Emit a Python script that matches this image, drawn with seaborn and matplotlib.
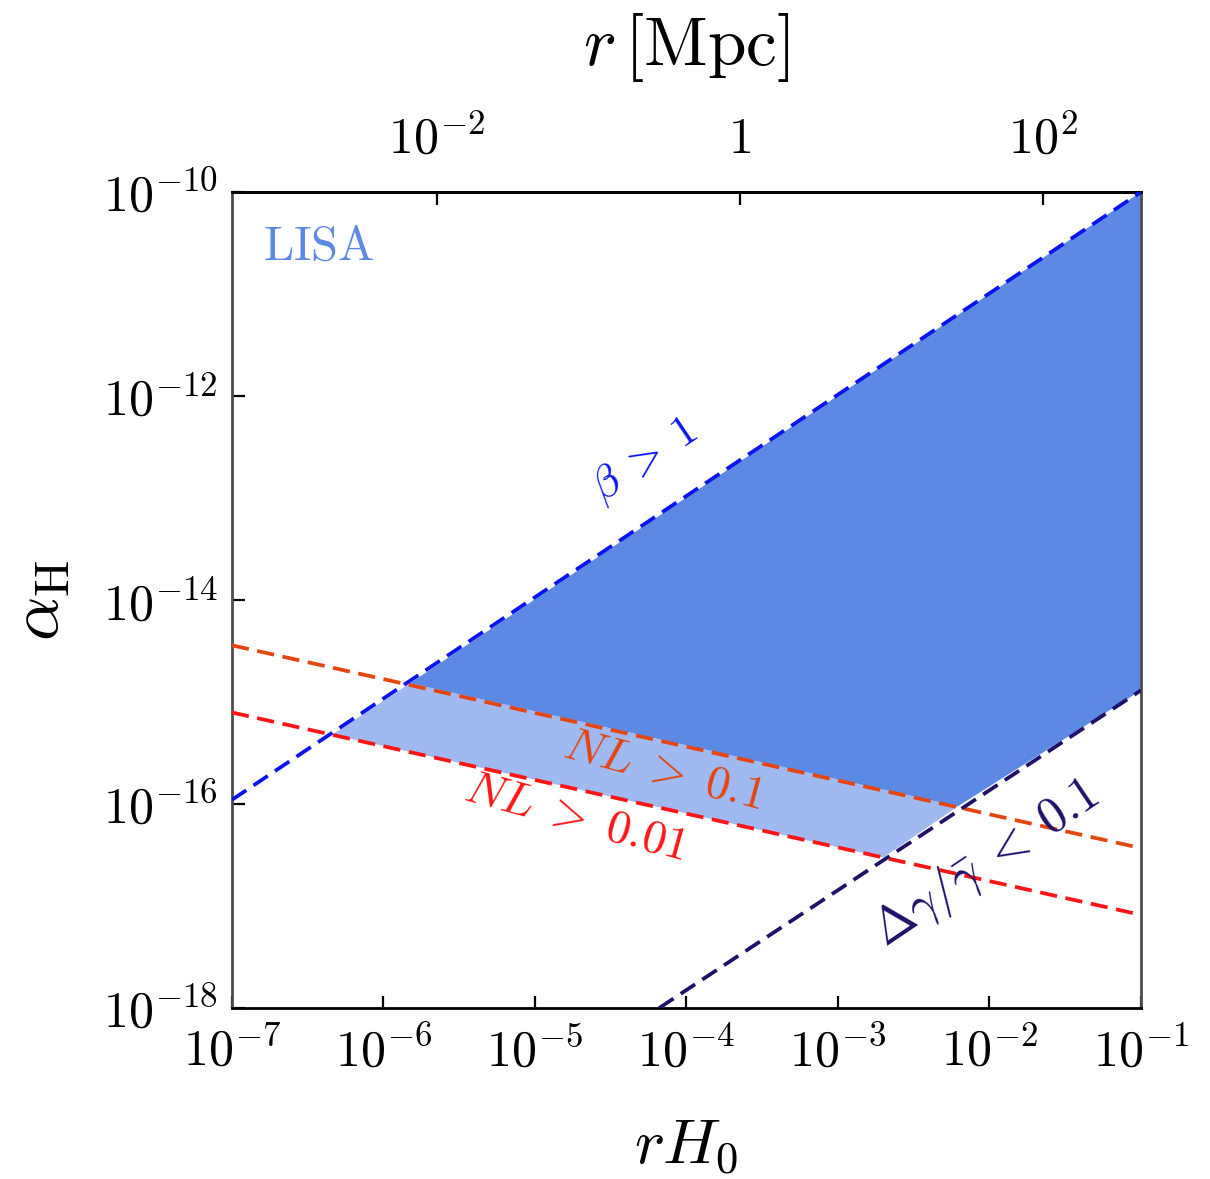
import numpy as np
import pandas as pd
import matplotlib
matplotlib.use("Agg")
import matplotlib.pyplot as plt
from matplotlib.ticker import FixedLocator, FuncFormatter, NullLocator
import seaborn as sns

# ==========================================
# data  (x = r H0, y = alpha_H)
# ==========================================
beta_x = [1e-7, 1e-1]
beta_y = [1.1e-16, 1e-10]
nl01_x = [1e-7, 1e-1]
nl01_y = [3.6e-15, 3.7e-17]
nl001_x = [1e-7, 1e-1]
nl001_y = [7.9e-16, 8.2e-18]
dgam_x = [6.6e-5, 1e-1]
dgam_y = [1e-18, 1.3e-15]

# shaded regions (corner points)
dark_x = [1.5e-6, 1e-1, 1e-1, 6.2e-3]
dark_y = [1.53e-15, 1e-10, 1.3e-15, 9.5e-17]
light_x = [4.6e-7, 1.5e-6, 6.2e-3, 2.0e-3]
light_y = [4.8e-16, 1.53e-15, 9.5e-17, 3.0e-17]

MPC_PER_UNIT = 4440.0   # c / H0 in Mpc
top_ticks = [1e-2, 1.0, 1e2]
top_labels = [r'$10^{-2}$', r'$1$', r'$10^{2}$']

c_dark = '#5C89E4'
c_light = '#A0B9F0'
c_beta = '#0A14F0'
c_nl01 = '#E5450F'
c_nl001 = '#FF1414'
c_dgam = '#20106A'

sns.set_style("ticks")
plt.rcParams['mathtext.fontset'] = 'cm'
plt.rcParams['font.family'] = ['DejaVu Serif']
plt.rcParams['axes.linewidth'] = 1.0
plt.rcParams['text.color'] = 'black'
plt.rcParams['xtick.color'] = 'black'
plt.rcParams['ytick.color'] = 'black'
plt.rcParams['axes.labelcolor'] = 'black'
plt.rcParams['axes.edgecolor'] = 'black'

fig = plt.figure(figsize=(6.05, 5.895), dpi=200)
ax = fig.add_axes([0.1917, 0.145, 0.7512, 0.6921])
ax.set(xscale='log', yscale='log', xlim=(1e-7, 1e-1), ylim=(1e-18, 1e-10))

ax.fill(light_x, light_y, color=c_light, lw=0, zorder=1)
ax.fill(dark_x, dark_y, color=c_dark, lw=0, zorder=1)

dash = (0, (4.6, 2.3))
lines = [(beta_x, beta_y, c_beta), (nl01_x, nl01_y, c_nl01),
         (nl001_x, nl001_y, c_nl001), (dgam_x, dgam_y, c_dgam)]
for xs, ys, col in lines:
    sns.lineplot(x=xs, y=ys, ax=ax, color=col, lw=1.35, linestyle=dash, zorder=3)

# labels along the curves
ax.text(0.034, 0.962, r'$\mathrm{LISA}$', transform=ax.transAxes, color=c_dark,
        fontsize=17.5, ha='left', va='top')
ax.text(5.3e-5, 2.35e-13, r'$\beta\;>\;1$', color=c_beta, fontsize=16,
        rotation=34, ha='center', va='center')
ax.text(7.0e-5, 2.1e-16, r'$NL\;>\;0.1$', color=c_nl01, fontsize=17,
        rotation=-15, ha='center', va='center')
ax.text(1.85e-5, 7.3e-17, r'$NL\;>\;0.01$', color=c_nl001, fontsize=17,
        rotation=-15.5, ha='center', va='center')
ax.text(9.5e-3, 2.6e-17, r'$\Delta\gamma/\bar{\gamma}\;<\;0.1$', color=c_dgam,
        fontsize=18, rotation=34, ha='center', va='center')

# ticks
ax.xaxis.set_major_locator(FixedLocator([10.0 ** k for k in range(-7, 0)]))
ax.yaxis.set_major_locator(FixedLocator([10.0 ** k for k in range(-18, -9, 2)]))
ax.xaxis.set_minor_locator(NullLocator())
ax.yaxis.set_minor_locator(NullLocator())
fmt = FuncFormatter(lambda v, p: r'$10^{%d}$' % int(round(np.log10(v))))
ax.xaxis.set_major_formatter(fmt)
ax.yaxis.set_major_formatter(fmt)
ax.tick_params(direction='in', length=4.5, width=0.8, labelsize=18,
               top=False, right=False)
ax.tick_params(axis='x', pad=7)
ax.tick_params(axis='y', pad=5)

secax = ax.secondary_xaxis('top', functions=(lambda x: x * MPC_PER_UNIT,
                                             lambda r: r / MPC_PER_UNIT))
secax.xaxis.set_major_locator(FixedLocator(top_ticks))
secax.xaxis.set_minor_locator(NullLocator())
secax.xaxis.set_major_formatter(FuncFormatter(
    lambda v, p: top_labels[int(round(np.log10(v) / 2)) + 1]))
secax.tick_params(direction='in', length=4.5, width=0.8, labelsize=18, pad=10)
secax.set_xlabel(r'$r\,[\mathrm{Mpc}]$', fontsize=25, labelpad=18)

ax.set_xlabel(r'$rH_0$', fontsize=23, labelpad=14)
ax.set_ylabel(r'$\alpha_{\rm H}$', fontsize=25, labelpad=11)

for side in ['left', 'right']:
    ax.spines[side].set_color('0.3')

fig.savefig('out.png', dpi=200)
